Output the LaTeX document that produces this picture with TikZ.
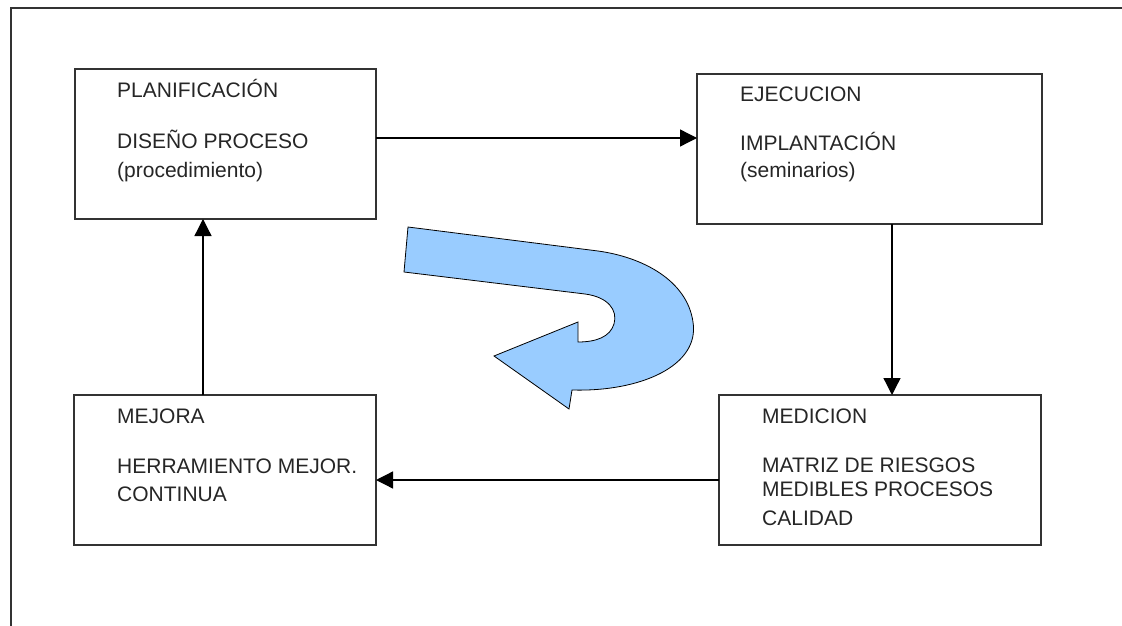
\documentclass[tikz,border=0pt]{standalone}
\usepackage{fontspec}
\setmainfont{Liberation Sans}
\usetikzlibrary{arrows.meta}

\definecolor{framegray}{HTML}{333333}
\definecolor{cyclefill}{HTML}{99CCFF}

\tikzset{
  stagebox/.style={draw=framegray, line width=1.5pt, rectangle, anchor=north west,
    inner sep=0pt, outer sep=0pt},
  txt/.style={anchor=base west, inner sep=0pt, font=\fontsize{21}{24}\selectfont,
    text=black!85},
  flow/.style={draw=black, line width=1.3pt,
    -{Triangle[length=17pt,width=17pt]}, shorten >=0pt},
  outline/.style={draw=framegray, line width=1.5pt}
}

\begin{document}
\begin{tikzpicture}[x=1pt, y=-1pt]
  \useasboundingbox (0,0) rectangle (1122,626);
  \fill[white] (0,0) rectangle (1122,626);

  % page frame: top and left edges only
  \coordinate (frameTR) at (1122,8);
  \coordinate (frameTL) at (11,8);
  \coordinate (frameBL) at (11,626);
  \draw[outline] (frameTR) -- (frameTL) -- (frameBL);

  % the four stages
  \node[stagebox, minimum width=301pt, minimum height=150pt] (plan)   at (75,69)   {};
  \node[stagebox, minimum width=345pt, minimum height=150pt] (ejec)   at (697,74)  {};
  \node[stagebox, minimum width=302pt, minimum height=150pt] (mejora) at (74,395)  {};
  \node[stagebox, minimum width=322pt, minimum height=150pt] (medic)  at (719,395) {};

  % texts of each stage
  \node[txt] (planA) at (117,98)  {PLANIFICACIÓN};
  \node[txt] (planB) at (117,148) {DISEÑO PROCESO};
  \node[txt] (planC) at (117,177) {(procedimiento)};

  \node[txt] (ejecA) at (740,101) {EJECUCION};
  \node[txt] (ejecB) at (740,150) {IMPLANTACIÓN};
  \node[txt] (ejecC) at (740,177) {(seminarios)};

  \node[txt] (mejA) at (117,423) {MEJORA};
  \node[txt] (mejB) at (117,473) {HERRAMIENTO MEJOR.};
  \node[txt] (mejC) at (117,501) {CONTINUA};

  \node[txt] (medA) at (762,423) {MEDICION};
  \node[txt] (medB) at (762,472) {MATRIZ DE RIESGOS};
  \node[txt] (medC) at (762,496) {MEDIBLES PROCESOS};
  \node[txt] (medD) at (762,525) {CALIDAD};

  % connectors of the cycle
  \draw[flow] (plan.east |- 0,138) -- (ejec.west |- 0,138);
  \draw[flow] (ejec.south -| 892,0) -- (medic.north -| 892,0);
  \draw[flow] (medic.west |- 0,480) -- (mejora.east |- 0,480);
  \draw[flow] (mejora.north -| 203,0) -- (plan.south -| 203,0);

  % curved return arrow in the middle
  \draw[fill=cyclefill, draw=black, line width=0.8pt, line join=miter]
    (408,227) -- (404,272) -- (585,294)
    .. controls (608,297) and (618,310) .. (614,324)
    .. controls (610,337) and (596,342) .. (578,342)
    -- (578,322) -- (494,356) -- (569,409) -- (572,390)
    .. controls (640,392) and (700,366) .. (693,322)
    .. controls (687,280) and (642,257) .. (598,251)
    -- cycle;
\end{tikzpicture}
\end{document}
